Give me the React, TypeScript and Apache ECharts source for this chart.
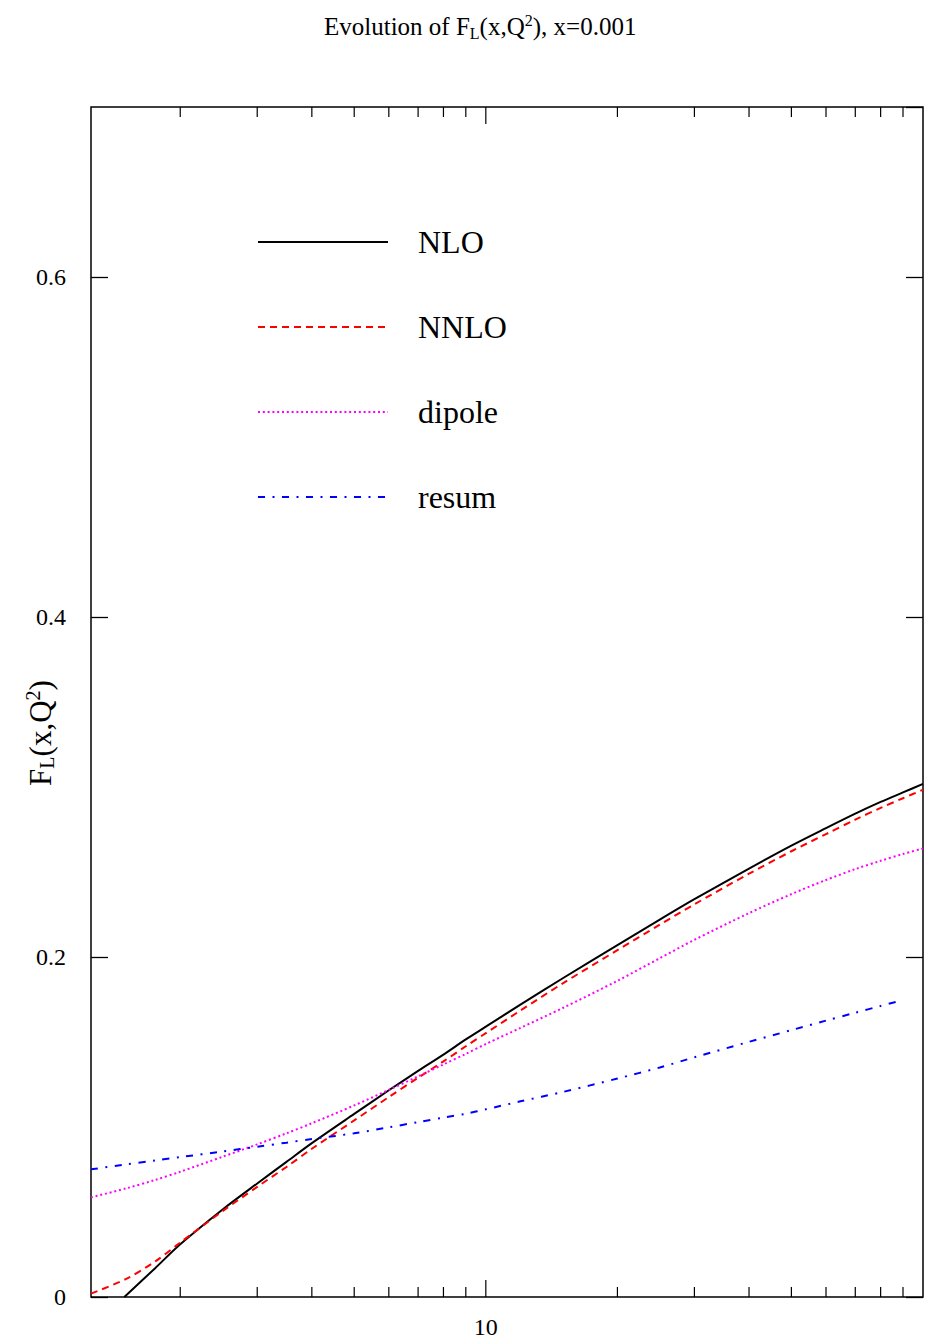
import React, { useEffect, useRef } from "react";
import * as echarts from "echarts";

// ---- data ----
const Q2_GRID = [1.25, 1.5, 1.75, 2, 2.5, 3, 3.5, 4, 5, 6, 7, 8, 9, 10, 12, 15, 20, 25, 30, 40, 50, 60, 70, 80, 90, 100];
const NLO_Q2 = [1.49, 1.75, 2, 2.5, 3, 3.5, 4, 5, 6, 7, 8, 9, 10, 12, 15, 20, 25, 30, 40, 50, 60, 70, 80, 90, 100];
const NLO = [0, 0.0168, 0.031, 0.0515, 0.0668, 0.0795, 0.0905, 0.1077, 0.1216, 0.133, 0.1426, 0.1515, 0.159, 0.172, 0.1875, 0.207, 0.222, 0.234, 0.252, 0.2655, 0.2758, 0.2843, 0.2912, 0.2968, 0.3018];
const NNLO = [0.002, 0.0105, 0.0208, 0.032, 0.0505, 0.0648, 0.0765, 0.0872, 0.1039, 0.1176, 0.129, 0.1386, 0.1475, 0.1552, 0.1685, 0.1845, 0.204, 0.219, 0.231, 0.249, 0.2622, 0.2723, 0.2808, 0.2877, 0.2934, 0.2984];
const DIPOLE = [0.0586, 0.0638, 0.0688, 0.0737, 0.0825, 0.0898, 0.0963, 0.1022, 0.1127, 0.1218, 0.1298, 0.1368, 0.143, 0.1488, 0.1583, 0.17, 0.186, 0.1993, 0.2101, 0.2258, 0.237, 0.2453, 0.2517, 0.2566, 0.2606, 0.2639];
const RESUM_Q2 = [1.25, 1.5, 1.75, 2, 2.5, 3, 3.5, 4, 5, 6, 7, 8, 9, 10, 12, 15, 20, 25, 30, 40, 50, 60, 70, 80, 88];
const RESUM = [0.0751, 0.0779, 0.0803, 0.0823, 0.0856, 0.0884, 0.0908, 0.0929, 0.0963, 0.0998, 0.1029, 0.1055, 0.1078, 0.1104, 0.1151, 0.1206, 0.1285, 0.135, 0.141, 0.1501, 0.157, 0.1626, 0.1672, 0.1712, 0.174];
const X_MINOR_TICKS = [2, 3, 4, 5, 6, 7, 8, 9, 20, 30, 40, 50, 60, 70, 80, 90];
const X_MAJOR_TICKS = [10];
const X_LABELS = [10];
const Y_LABELS = [0, 0.2, 0.4, 0.6];
const LEGEND = ["NLO", "NNLO", "dipole", "resum"];

const FONT = '"Liberation Serif", "Times New Roman", Times, serif';

const zip = (xs: number[], ys: number[]) => xs.map((x, i) => [x, ys[i]]);

function buildOption() {
  const yTick = { show: true, inside: true, length: 17, lineStyle: { color: "#000", width: 1.3 } };
  return {
    animation: false,
    backgroundColor: "#fff",
    title: {
      text: "Evolution of F{sub|L}(x,Q{sup|2}), x=0.001",
      left: 319,
      top: 7,
      textStyle: {
        fontFamily: FONT,
        fontSize: 25,
        fontWeight: "normal",
        color: "#000",
        rich: {
          sub: { fontFamily: FONT, fontSize: 16, color: "#000", verticalAlign: "bottom", padding: [13, 0, 0, 0] },
          sup: { fontFamily: FONT, fontSize: 16, color: "#000", verticalAlign: "top", padding: [0, 0, 13, 0] },
        },
      },
    },
    grid: {
      left: 91,
      right: 9,
      top: 107,
      bottom: 45,
      show: true,
      borderColor: "#000",
      borderWidth: 1.5,
      backgroundColor: "transparent",
    },
    legend: {
      data: LEGEND,
      orient: "vertical",
      left: 252,
      top: 221,
      itemWidth: 130,
      itemHeight: 14,
      itemGap: 53,
      selectedMode: false,
      itemStyle: { color: "rgba(0,0,0,0)", borderWidth: 0, opacity: 0 },
      textStyle: { fontFamily: FONT, fontSize: 32, color: "#000", lineHeight: 32, padding: [0, 0, 0, 25] },
    },
    xAxis: [
      {
        type: "log",
        logBase: 10,
        min: 1.25,
        max: 100,
        axisLine: { show: false },
        axisTick: { show: false },
        splitLine: { show: false },
        axisLabel: {
          fontFamily: FONT,
          fontSize: 24,
          color: "#000",
          margin: 18,
          showMinLabel: false,
          showMaxLabel: false,
          formatter: (v: number) => (X_LABELS.some((l) => Math.abs(v - l) < 1e-6) ? String(v) : ""),
        },
      },
    ],
    yAxis: [
      {
        type: "value",
        min: 0,
        max: 0.7,
        interval: 0.2,
        axisLine: { show: false },
        axisTick: yTick,
        splitLine: { show: false },
        axisLabel: {
          fontFamily: FONT,
          fontSize: 24,
          color: "#000",
          margin: 25,
          showMaxLabel: false,
          formatter: (v: number) => {
            const hit = Y_LABELS.find((l) => Math.abs(v - l) < 1e-6);
            return hit === undefined ? "" : String(hit);
          },
        },
      },
      {
        type: "value",
        position: "right",
        min: 0,
        max: 0.7,
        interval: 0.2,
        axisLine: { show: false },
        axisTick: yTick,
        splitLine: { show: false },
        axisLabel: { show: false },
      },
    ],
    graphic: [
      {
        type: "text",
        x: 40,
        y: 733,
        rotation: Math.PI / 2,
        style: {
          text: "F{sub|L}(x,Q{sup|2})",
          fill: "#000",
          fontFamily: FONT,
          fontSize: 31,
          align: "center",
          verticalAlign: "middle",
          rich: {
            sub: { fontFamily: FONT, fontSize: 20, fill: "#000", verticalAlign: "bottom", padding: [14, 0, 0, 0] },
            sup: { fontFamily: FONT, fontSize: 20, fill: "#000", verticalAlign: "top", padding: [0, 0, 14, 0] },
          },
        },
      },
    ],
    series: [
      {
        type: "line",
        name: "NLO",
        data: zip(NLO_Q2, NLO),
        symbol: "none",
        smooth: 0.3,
        color: "#000000",
        lineStyle: { color: "#000000", width: 2, type: "solid" },
      },
      {
        type: "line",
        name: "NNLO",
        data: zip(Q2_GRID, NNLO),
        symbol: "none",
        smooth: 0.3,
        color: "#ff0000",
        lineStyle: { color: "#ff0000", width: 2, type: [7, 5] },
      },
      {
        type: "line",
        name: "dipole",
        data: zip(Q2_GRID, DIPOLE),
        symbol: "none",
        smooth: 0.3,
        color: "#ff00ff",
        lineStyle: { color: "#ff00ff", width: 2, type: [2, 2.8] },
      },
      {
        type: "line",
        name: "resum",
        data: zip(RESUM_Q2, RESUM),
        symbol: "none",
        smooth: 0.3,
        color: "#0000ff",
        lineStyle: { color: "#0000ff", width: 2, type: [7, 7.5, 2, 7.5] },
      },
      {
        type: "custom",
        name: "xticks",
        silent: true,
        clip: false,
        z: 10,
        encode: { x: 0, y: 1 },
        data: X_MINOR_TICKS.map((v) => [v, 0, 0]).concat(X_MAJOR_TICKS.map((v) => [v, 0, 1])),
        renderItem: (params: any, api: any) => {
          const p = api.coord([api.value(0), 0]);
          const cs = params.coordSys;
          const len = api.value(2) === 1 ? 17 : 10;
          const top = cs.y;
          const bottom = cs.y + cs.height;
          const style = { stroke: "#000", lineWidth: 1.2 };
          return {
            type: "group",
            children: [
              { type: "line", shape: { x1: p[0], y1: bottom, x2: p[0], y2: bottom - len }, style },
              { type: "line", shape: { x1: p[0], y1: top, x2: p[0], y2: top + len }, style },
            ],
          };
        },
      },
    ],
  };
}

export default function App() {
  const ref = useRef<HTMLDivElement>(null);
  useEffect(() => {
    if (!ref.current) return;
    const chart = echarts.init(ref.current, null, { renderer: "svg" });
    chart.setOption(buildOption() as any);
    return () => chart.dispose();
  }, []);
  return (
    <div
      ref={ref}
      style={{ position: "absolute", left: 0, top: 0, width: 932, height: 1342, background: "#fff" }}
    />
  );
}
